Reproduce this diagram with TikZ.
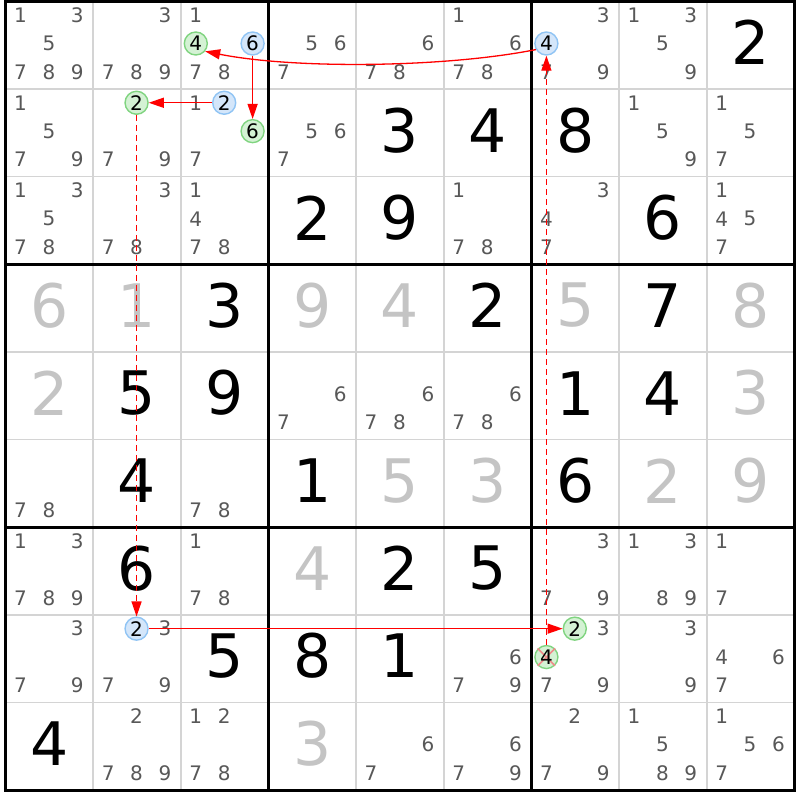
\documentclass[tikz,border=0pt]{standalone}
\usepackage{fontspec}
\setmainfont{DejaVu Sans}
\usetikzlibrary{arrows.meta}
\definecolor{candgray}{HTML}{585858}
\definecolor{givgray}{HTML}{C4C4C4}
\definecolor{gridgray}{HTML}{D4D4D4}
\definecolor{grfill}{HTML}{D4F2D4}
\definecolor{grline}{HTML}{80D480}
\definecolor{blfill}{HTML}{D4E6FA}
\definecolor{blline}{HTML}{90C4F4}
\definecolor{xred}{HTML}{F08A8A}
\definecolor{linkred}{HTML}{FF0000}
\tikzset{
 cand/.style={inner sep=0pt, text=candgray, font=\fontsize{20}{20}\selectfont},
 bigblack/.style={inner sep=0pt, text=black, font=\fontsize{60}{60}\selectfont},
 biggray/.style={bigblack, text=givgray},
 circ/.style={circle, inner sep=0pt, minimum size=23pt, line width=1.4pt, text=black, font=\fontsize{20}{20}\selectfont},
 grc/.style={circ, draw=grline, fill=grfill},
 blc/.style={circ, draw=blline, fill=blfill},
 link/.style={draw=linkred, line width=1.3pt, -{Triangle[length=15pt,width=10pt]}},
 dlink/.style={link, dash pattern=on 6pt off 4pt},
 thinline/.style={draw=gridgray, line width=1.6pt},
 thickline/.style={draw=black, line width=3pt},
}
\newcommand\CP[3]{({5.5+(#2-1)*87.65+43.4+(mod(#3-1,3)-1)*28.4},{1.2+(#1-1)*87.65+42.3+(floor((#3-1)/3)-1)*28.4})}
\newcommand\Cands[3]{\foreach \k in {#3} {\node[cand] (c#1#2\k) at \CP{#1}{#2}{\k} {\k};}}
\newcommand\BigB[3]{\node[bigblack] (g#1#2) at ({5.5+(#2-0.5)*87.65},{1.2+(#1-0.5)*87.65-2.5}) {#3};}
\newcommand\BigG[3]{\node[biggray] (g#1#2) at ({5.5+(#2-0.5)*87.65},{1.2+(#1-0.5)*87.65-2.5}) {#3};}
\begin{document}
\begin{tikzpicture}[x=1pt,y=-1pt]
\useasboundingbox[fill=white] (0,0) rectangle (800,800);
% grid
\foreach \i in {1,2,4,5,7,8} {
  \draw[thinline] ({5.5+\i*87.65},1.2) -- ({5.5+\i*87.65},790);
  \draw[thinline] (5.5,{1.2+\i*87.65}) -- (794.3,{1.2+\i*87.65});
}
\foreach \i in {0,3,6,9} {
  \draw[thickline] ({5.5+\i*87.65},-0.3) -- ({5.5+\i*87.65},791.5);
  \draw[thickline] (4,{1.2+\i*87.65}) -- (795.8,{1.2+\i*87.65});
}
% row 1
\Cands{1}{1}{1,3,5,7,8,9}
\Cands{1}{2}{3,7,8,9}
\Cands{1}{3}{1,7,8}
\Cands{1}{4}{5,6,7}
\Cands{1}{5}{6,7,8}
\Cands{1}{6}{1,6,7,8}
\Cands{1}{7}{3,7,9}
\Cands{1}{8}{1,3,5,9}
\BigB{1}{9}{2}
% row 2
\Cands{2}{1}{1,5,7,9}
\Cands{2}{2}{7,9}
\Cands{2}{3}{1,7}
\Cands{2}{4}{5,6,7}
\BigB{2}{5}{3}
\BigB{2}{6}{4}
\BigB{2}{7}{8}
\Cands{2}{8}{1,5,9}
\Cands{2}{9}{1,5,7}
% row 3
\Cands{3}{1}{1,3,5,7,8}
\Cands{3}{2}{3,7,8}
\Cands{3}{3}{1,4,7,8}
\BigB{3}{4}{2}
\BigB{3}{5}{9}
\Cands{3}{6}{1,7,8}
\Cands{3}{7}{3,4,7}
\BigB{3}{8}{6}
\Cands{3}{9}{1,4,5,7}
% row 4
\BigG{4}{1}{6}
\BigG{4}{2}{1}
\BigB{4}{3}{3}
\BigG{4}{4}{9}
\BigG{4}{5}{4}
\BigB{4}{6}{2}
\BigG{4}{7}{5}
\BigB{4}{8}{7}
\BigG{4}{9}{8}
% row 5
\BigG{5}{1}{2}
\BigB{5}{2}{5}
\BigB{5}{3}{9}
\Cands{5}{4}{6,7}
\Cands{5}{5}{6,7,8}
\Cands{5}{6}{6,7,8}
\BigB{5}{7}{1}
\BigB{5}{8}{4}
\BigG{5}{9}{3}
% row 6
\Cands{6}{1}{7,8}
\BigB{6}{2}{4}
\Cands{6}{3}{7,8}
\BigB{6}{4}{1}
\BigG{6}{5}{5}
\BigG{6}{6}{3}
\BigB{6}{7}{6}
\BigG{6}{8}{2}
\BigG{6}{9}{9}
% row 7
\Cands{7}{1}{1,3,7,8,9}
\BigB{7}{2}{6}
\Cands{7}{3}{1,7,8}
\BigG{7}{4}{4}
\BigB{7}{5}{2}
\BigB{7}{6}{5}
\Cands{7}{7}{3,7,9}
\Cands{7}{8}{1,3,8,9}
\Cands{7}{9}{1,7}
% row 8
\Cands{8}{1}{3,7,9}
\Cands{8}{2}{3,7,9}
\BigB{8}{3}{5}
\BigB{8}{4}{8}
\BigB{8}{5}{1}
\Cands{8}{6}{6,7,9}
\Cands{8}{7}{3,7,9}
\Cands{8}{8}{3,9}
\Cands{8}{9}{4,6,7}
% row 9
\BigB{9}{1}{4}
\Cands{9}{2}{2,7,8,9}
\Cands{9}{3}{1,2,7,8}
\BigG{9}{4}{3}
\Cands{9}{5}{6,7}
\Cands{9}{6}{6,7,9}
\Cands{9}{7}{2,7,9}
\Cands{9}{8}{1,5,8,9}
\Cands{9}{9}{1,5,6,7}
% highlighted candidates
\node[blc] (nA) at \CP{1}{7}{4} {4};
\node[grc] (nB) at \CP{1}{3}{4} {4};
\node[blc] (nC) at \CP{1}{3}{6} {6};
\node[grc] (nD) at \CP{2}{3}{6} {6};
\node[blc] (nE) at \CP{2}{3}{2} {2};
\node[grc] (nF) at \CP{2}{2}{2} {2};
\node[blc] (nG) at \CP{8}{2}{2} {2};
\node[grc] (nH) at \CP{8}{7}{2} {2};
\node[grc] (nI) at \CP{8}{7}{4} {};
\draw[xred, line width=1.6pt] (nI.45) -- (nI.225) (nI.135) -- (nI.-45);
\node[circ] (nIt) at (nI.center) {4};
% links
\draw[link] (nA.210) .. controls +(-90,18) and +(90,18) .. (nB.-40);
\draw[link] (nC) -- (nD);
\draw[link] (nE) -- (nF);
\draw[dlink] (nF) -- (nG);
\draw[link] (nG) -- (nH);
\draw[dlink] (nI) -- (nA);
\end{tikzpicture}
\end{document}
